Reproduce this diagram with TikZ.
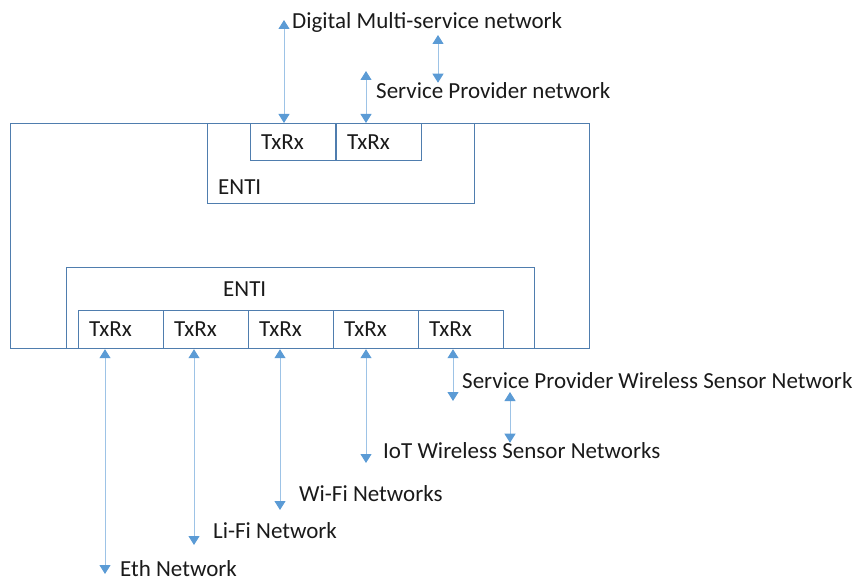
\documentclass[tikz,border=0pt]{standalone}
\usepackage{fontspec}
\setmainfont{Carlito}
\usepackage{tikz}
\usetikzlibrary{calc,arrows.meta}
\definecolor{boxline}{HTML}{4F7DAE}
\definecolor{linkline}{HTML}{9DC3E6}
\definecolor{linktip}{HTML}{5B9BD5}
\definecolor{ink}{HTML}{1A1A1A}
\tikzset{
  frame/.style={draw=boxline, line width=1.2pt, anchor=north west, inner sep=0pt},
  txrx/.style={draw=boxline, line width=1.2pt, anchor=north west, minimum width=85pt, minimum height=37pt, text width=64pt, align=left, text=ink, font=\fontsize{23}{27}\selectfont},
  lab/.style={text=ink, font=\fontsize{23}{27}\selectfont, anchor=west, inner sep=0pt},
  link/.style={draw=linkline, line width=1pt, {Triangle[length=9pt,width=11pt,color=linktip,fill=linktip]}-{Triangle[length=9pt,width=11pt,color=linktip,fill=linktip]}},
}
\begin{document}
\begin{tikzpicture}[x=1pt,y=-1pt]
\useasboundingbox (0,0) rectangle (857,583);
% Outer frame
\node[frame, minimum width=579pt, minimum height=225pt] (outer) at (10,123) {};

% Top ENTI
\node[frame, minimum width=267pt, minimum height=80pt] (entitop) at (207,123) {};
\node[lab] at (218,187) {ENTI};
\node[txrx] (t1) at (250,123) {TxRx};
\node[txrx] (t2) at (336,123) {TxRx};

% Bottom ENTI
\node[frame, minimum width=468pt, minimum height=81pt] (entibot) at (66,267) {};
\node[lab] at (223,289) {ENTI};
\foreach \i/\x in {1/78,2/163,3/248,4/333,5/418}
  \node[txrx, minimum height=38pt] (b\i) at (\x,310) {TxRx};

% Networks above
\node[lab] (dig) at (292,22) {Digital Multi-service network};
\node[lab] (spn) at (376,91) {Service Provider network};
\coordinate (digtip) at (284,20);
\coordinate (spntip) at (366,71);
\coordinate (splink) at (438,35);
\draw[link] (digtip |- t1.north) -- (digtip);
\draw[link] (spntip |- t2.north) -- (spntip);
\draw[link] (splink) -- (splink |- spn.north);

% Networks below
\node[lab] (eth) at (120,569) {Eth Network};
\node[lab] (lifi) at (213,531) {Li-Fi Network};
\node[lab] (wifi) at (299,494) {Wi-Fi Networks};
\node[lab] (iot) at (383,451) {IoT Wireless Sensor Networks};
\node[lab] (spw) at (462,381) {Service Provider Wireless Sensor Network};
\coordinate (ethtip) at (105,574);
\coordinate (lifitip) at (194,545);
\coordinate (wifitip) at (280,510);
\coordinate (iottip) at (366,463);
\coordinate (spwtip) at (453,401);
\draw[link] (ethtip |- b1.south) -- (ethtip);
\draw[link] (lifitip |- b2.south) -- (lifitip);
\draw[link] (wifitip |- b3.south) -- (wifitip);
\draw[link] (iottip |- b4.south) -- (iottip);
\draw[link] (spwtip |- b5.south) -- (spwtip);
\coordinate (spwlow) at (510,392);
\draw[link] (spwlow) -- (spwlow |- iot.north);
\end{tikzpicture}
\end{document}
